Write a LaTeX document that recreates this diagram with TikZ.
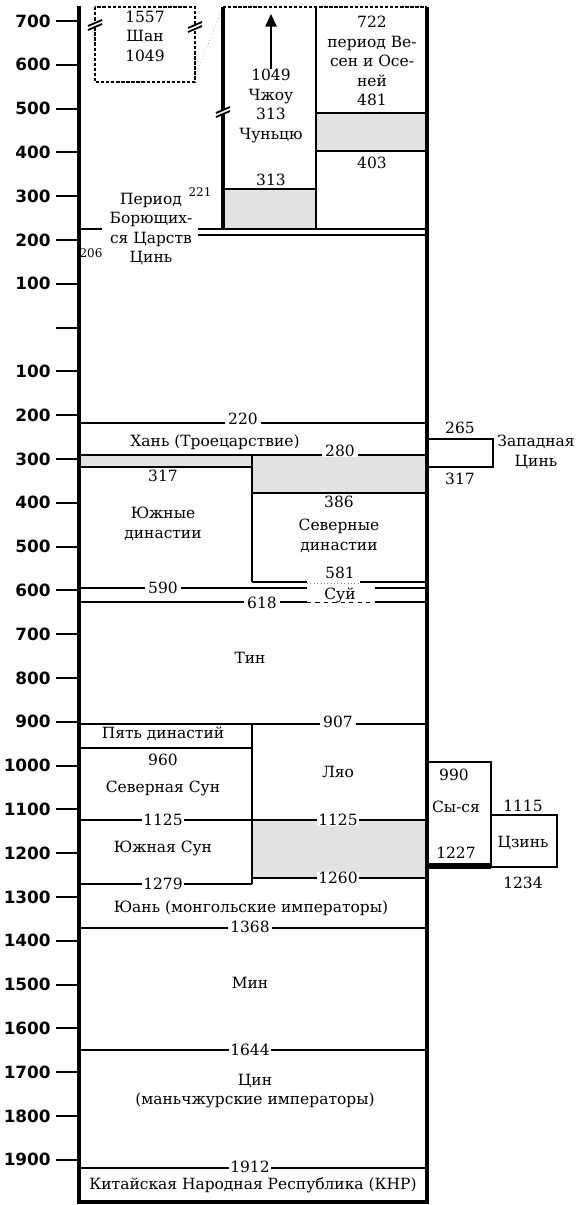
\documentclass[tikz,border=0pt]{standalone}
\usepackage{fontspec}
\setmainfont{DejaVu Serif}
\newfontfamily\ticksfont{DejaVu Sans}
\usetikzlibrary{arrows.meta}
\definecolor{stipple}{RGB}{226,226,226}

% slanted double stroke that breaks a vertical edge
\newcommand{\breakmark}[2]{%
  \fill[white] (#1-7,#2+1) -- (#1+7,#2-5) -- (#1+7,#2-1) -- (#1-7,#2+5) -- cycle;
  \draw[line width=1.3pt] (#1-7,#2+1) -- (#1+7,#2-5) (#1-7,#2+5) -- (#1+7,#2-1);}

\begin{document}
\begin{tikzpicture}[x=0.025cm, y=-0.025cm, >={Triangle[length=9pt,width=8pt]},
    outline/.style={line width=2.5pt},
    era/.style={line width=2pt},
    dashedge/.style={line width=1.7pt, dash pattern=on 2.4pt off 1.2pt},
    axistick/.style={line width=1.5pt},
    stippled/.style={fill=stipple},
    lbl/.style={align=center, inner sep=0pt, font=\fontsize{11}{13.8}\selectfont},
    yr/.style={fill=white, inner xsep=2pt, inner ysep=0pt, font=\fontsize{11}{13.8}\selectfont},
    small/.style={inner sep=0pt, font=\fontsize{8.5}{9}\selectfont}]
    \useasboundingbox (0,0) rectangle (577,1205);

    % Year scale
    \foreach \lab [count=\i from 0] in {700,600,500,400,300,200,100,{},100,200,300,400,500,600,700,800,900,1000,1100,1200,1300,1400,1500,1600,1700,1800,1900} {
        \draw[axistick] (56,21+\i*43.8) -- (79,21+\i*43.8);
        \node[anchor=east, inner sep=0pt, font=\ticksfont\bfseries\fontsize{12}{13}\selectfont] (t\i) at (51,21+\i*43.8) {\lab};
    }

    % Uncertain intervals
    \fill[stippled] (223,189) rectangle (316,229);
    \fill[stippled] (316,113) rectangle (427,151);
    \fill[stippled] (79,455) rectangle (252,467);
    \fill[stippled] (252,455) rectangle (427,493);
    \fill[stippled] (252,820) rectangle (427,878);

    % Outline of the table
    \draw[outline] (79,6) -- (79,1202) -- (427,1202) -- (427,7);
    \draw[outline] (223,229) -- (223,7);
    \draw[era] (316,7) -- (316,229);
    \draw[dashedge] (223,7) -- (427,7);

    % Shang
    \draw[dashedge] (95,7) rectangle (195,82);
    \node[lbl] (shang) at (145,36) {1557\\Шан\\1049};
    \draw[gray, dotted, thin] (197,72) -- (221,12);

    % Zhou, Chunqiu
    \node[lbl] (zhou) at (271,106) {1049\\Чжоу\\313\\Чуньцю};
    \draw[->, line width=1.4pt] (zhou.north) -- (271,14);
    \draw[era] (223,189) -- (316,189);
    \node[lbl] (z313) at (271,180) {313};
    \node[lbl] (chunqiu) at (372,61) {722\\период Ве-\\сен и Осе-\\ней\\481};
    \draw[era] (316,113) -- (427,113);
    \draw[era] (316,151) -- (427,151);
    \node[lbl] (z403) at (372,163) {403};

    % Warring States, Qin
    \draw[era] (79,229) -- (102,229);
    \draw[era] (198,229) -- (427,229);
    \draw[era] (198,235) -- (427,235);
    \node[small] (y221) at (200,192) {221};
    \node[small] (y206) at (91,253) {206};
    \node[lbl] (warring) at (151,229) {Период\\Борющих-\\ся Царств\\Цинь};

    % Han to Sui
    \draw[era] (79,423) -- (427,423);
    \node[yr] (y220) at (243,419) {220};
    \node[lbl] (han) at (215,442) {Хань (Троецарствие)};
    \draw[era] (79,455) -- (427,455);
    \node[yr] (y280) at (340,451) {280};
    \draw[era] (79,467) -- (252,467);
    \node[yr] (y317) at (163,476) {317};
    \draw[era] (252,455) -- (252,582);
    \draw[era] (252,493) -- (427,493);
    \node[yr] (y386) at (339,502) {386};
    \node[lbl] (south) at (163,524) {Южные\\династии};
    \node[lbl] (north) at (339,536) {Северные\\династии};
    \draw[era] (252,582) -- (307,582) (360,582) -- (427,582);
    \draw[gray, dotted] (307,583) -- (360,583);
    \node[lbl] (y581) at (340,573) {581};
    \draw[era] (79,588) -- (307,588) (375,588) -- (427,588);
    \node[yr] (y590) at (163,588) {590};
    \draw[era] (79,602) -- (307,602) (375,602) -- (427,602);
    \draw[thin, dashed] (307,602) -- (375,602);
    \node[yr] (y618) at (262,603) {618};
    \node[lbl] (sui) at (340,595) {Суй};

    % Western Jin
    \draw[era] (427,439) -- (493,439) -- (493,467) -- (427,467);
    \node[lbl] (y265) at (460,428) {265};
    \node[lbl] (y317w) at (460,479) {317};
    \node[lbl] (westjin) at (536,452) {Западная\\Цинь};

    % Tang to Yuan
    \node[lbl] (tang) at (250,658) {Тин};
    \draw[era] (79,724) -- (427,724);
    \node[yr] (y907) at (338,722) {907};
    \node[lbl] (five) at (163,734) {Пять династий};
    \draw[era] (79,748) -- (252,748);
    \draw[era] (252,724) -- (252,884);
    \node[lbl] (y960) at (163,760) {960};
    \node[lbl] (nsong) at (163,788) {Северная Сун};
    \node[lbl] (liao) at (338,772) {Ляо};
    \draw[era] (79,820) -- (427,820);
    \node[yr, inner xsep=1pt] (y1125a) at (163,820) {1125};
    \node[yr, inner xsep=1pt] (y1125b) at (338,820) {1125};
    \node[lbl] (ssong) at (163,848) {Южная Сун};
    \draw[era] (252,878) -- (427,878);
    \node[yr, inner xsep=1pt] (y1260) at (338,878) {1260};
    \draw[era] (79,884) -- (252,884);
    \node[yr, inner xsep=1pt] (y1279) at (163,884) {1279};

    % Xi Xia, Jin
    \draw[era] (427,762) -- (491,762) -- (491,866);
    \draw[line width=4pt] (427,866) -- (491,866);
    \node[lbl] (y990) at (454,775) {990};
    \node[lbl] (xixia) at (456,807) {Сы-ся};
    \node[lbl] (y1227) at (456,853) {1227};
    \draw[era] (491,815) -- (557,815) -- (557,867) -- (491,867);
    \node[lbl] (y1115) at (523,806) {1115};
    \node[lbl] (jin) at (523,843) {Цзинь};
    \node[lbl] (y1234) at (523,883) {1234};

    % Yuan to the People's Republic
    \node[lbl] (yuan) at (251,908) {Юань (монгольские императоры)};
    \draw[era] (79,928) -- (427,928);
    \node[yr] (y1368) at (250,927) {1368};
    \node[lbl] (ming) at (250,983) {Мин};
    \draw[era] (79,1050) -- (427,1050);
    \node[yr, inner xsep=1pt] (y1644) at (250,1050) {1644};
    \node[lbl] (qing) at (255,1091) {Цин\\(маньчжурские императоры)};
    \draw[era] (79,1168) -- (427,1168);
    \node[yr, inner xsep=1pt] (y1912) at (250,1167) {1912};
    \node[lbl] (prc) at (253,1185) {Китайская Народная Республика (КНР)};

    % Scale breaks
    \breakmark{95}{25}
    \breakmark{195}{27}
    \breakmark{223}{112}
\end{tikzpicture}
\end{document}
